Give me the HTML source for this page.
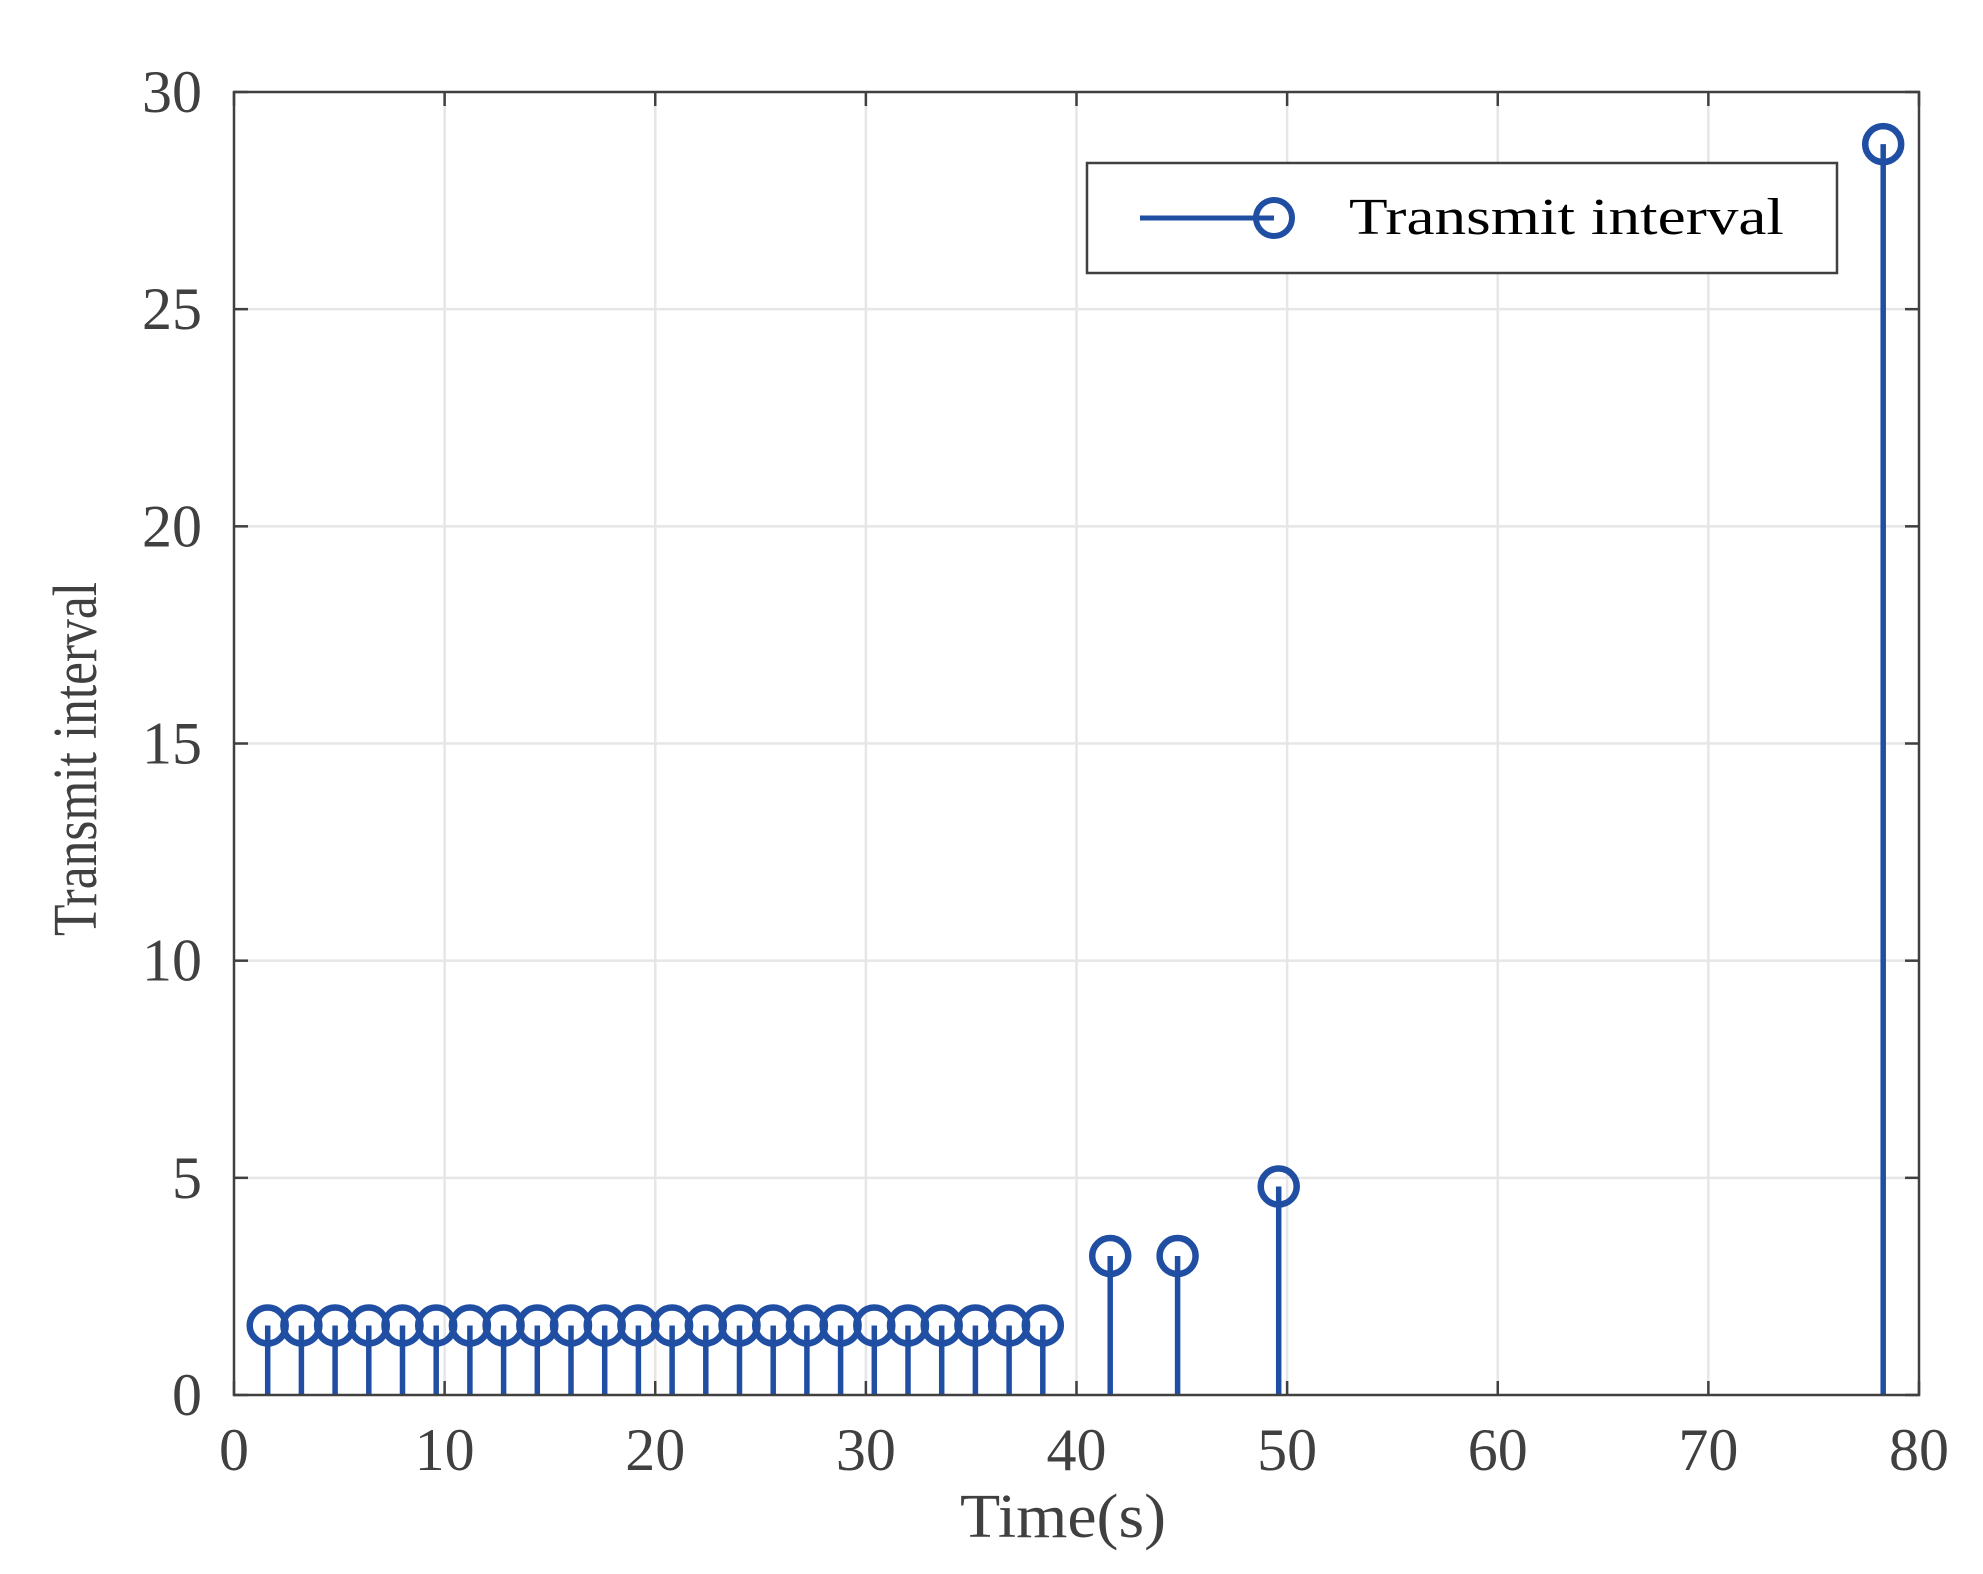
<!DOCTYPE html>
<html><head><meta charset="utf-8"><style>
html,body{margin:0;padding:0;background:#fff;}
svg{display:block;}
text{font-family:"Liberation Serif",serif;fill:#404040;}
</style></head><body>
<svg id="chart" width="1983" height="1574" viewBox="0 0 1983 1574" xmlns="http://www.w3.org/2000/svg">
<g id="grid"></g>
<g id="stems"></g>
<g id="axes"></g>
<g>
  <rect x="1087" y="163" width="750" height="110" fill="#fff" stroke="#404040" stroke-width="2.5"/>
  <line x1="1140" y1="218" x2="1274" y2="218" stroke="#1f4ea3" stroke-width="5"/>
  <circle cx="1274" cy="218" r="18" fill="none" stroke="#1f4ea3" stroke-width="6"/>
  <text x="1349" y="234" font-size="52" textLength="435" lengthAdjust="spacingAndGlyphs" style="fill:#000">Transmit interval</text>
</g>
<text x="1063" y="1537" font-size="62" text-anchor="middle" textLength="206" lengthAdjust="spacingAndGlyphs">Time(s)</text>
<text transform="translate(96,759) rotate(-90)" font-size="62" text-anchor="middle" textLength="354" lengthAdjust="spacingAndGlyphs">Transmit interval</text>
</svg>
<script>
const xTicks = [0,10,20,30,40,50,60,70,80];
const yTicks = [0,5,10,15,20,25,30];
const timeValues = [1.6,3.2,4.8,6.4,8.0,9.6,11.2,12.8,14.4,16.0,17.6,19.2,20.8,22.4,24.0,25.6,27.2,28.8,30.4,32.0,33.6,35.2,36.8,38.4,41.6,44.8,49.6,78.3];
const intervalValues = [1.6,1.6,1.6,1.6,1.6,1.6,1.6,1.6,1.6,1.6,1.6,1.6,1.6,1.6,1.6,1.6,1.6,1.6,1.6,1.6,1.6,1.6,1.6,1.6,3.2,3.2,4.8,28.8];

const L=234,R=1919,T=92,B=1395;
const xs=v=>L+(v-0)/(80-0)*(R-L);
const ys=v=>B-(v-0)/(30-0)*(B-T);
const NS="http://www.w3.org/2000/svg";
function mk(tag,attrs,parent){const e=document.createElementNS(NS,tag);for(const k in attrs)e.setAttribute(k,attrs[k]);parent.appendChild(e);return e;}
const grid=document.getElementById('grid'),axes=document.getElementById('axes'),stems=document.getElementById('stems');

xTicks.forEach(t=>{
  const x=xs(t);
  if(t>0&&t<80){const g=mk('line',{x1:x,y1:T,x2:x,y2:B,stroke:'#e6e6e6','stroke-width':2.5},grid);
  
  }
  const a=mk('line',{x1:x,y1:B,x2:x,y2:B-14,stroke:'#404040','stroke-width':2.5},axes);
  
  
  const b=mk('line',{x1:x,y1:T,x2:x,y2:T+14,stroke:'#404040','stroke-width':2.5},axes);
  
  
  const tx=mk('text',{x:x,y:1470,'font-size':60,'text-anchor':'middle'},axes);
  tx.textContent=t;
  
  
});
yTicks.forEach(t=>{
  const y=ys(t);
  if(t>0&&t<30){const g=mk('line',{x1:L,y1:y,x2:R,y2:y,stroke:'#e6e6e6','stroke-width':2.5},grid);
  
  }
  const a=mk('line',{x1:L,y1:y,x2:L+14,y2:y,stroke:'#404040','stroke-width':2.5},axes);
  
  
  const b=mk('line',{x1:R,y1:y,x2:R-14,y2:y,stroke:'#404040','stroke-width':2.5},axes);
  
  
  const tx=mk('text',{x:202,y:y+20,'font-size':60,'text-anchor':'end'},axes);
  tx.textContent=t;
  
  
});
const frame=mk('rect',{x:L,y:T,width:R-L,height:B-T,fill:'none',stroke:'#404040','stroke-width':2.5},axes);



timeValues.forEach((t,i)=>{
  const x=xs(t),y=ys(intervalValues[i]);
  const s=mk('line',{x1:x,y1:B,x2:x,y2:y,stroke:'#1f4ea3','stroke-width':5.5},stems);
  
  
  const c=mk('circle',{cx:x,cy:y,r:18,fill:'none',stroke:'#1f4ea3','stroke-width':6.5},stems);
  
  
});
</script>
</body></html>
